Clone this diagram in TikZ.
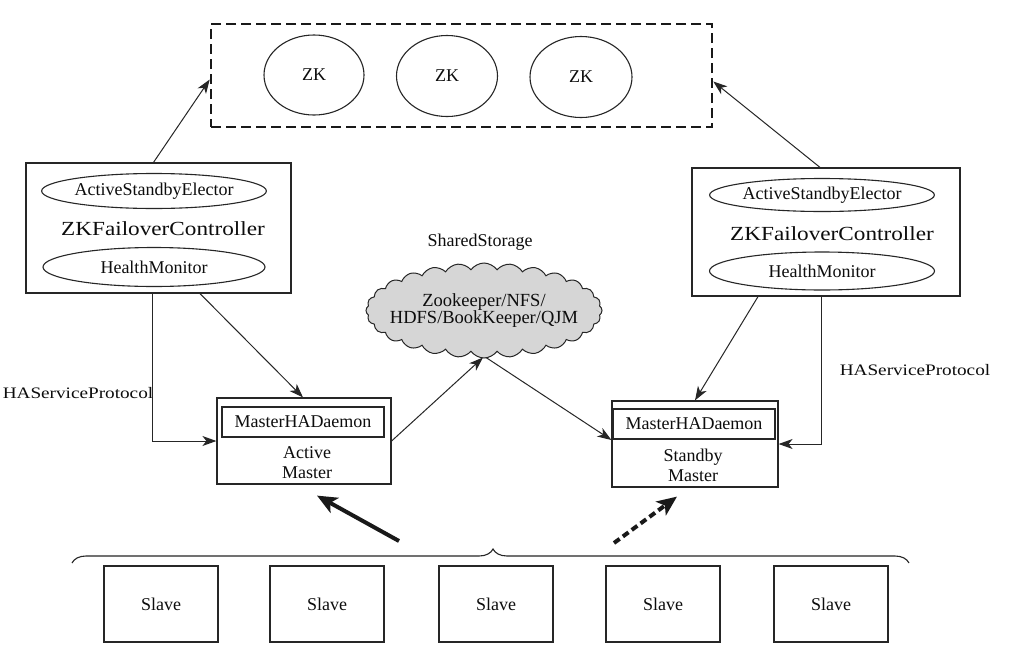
\documentclass[tikz,border=0pt]{standalone}
\usepackage{fontspec}
\setmainfont{Liberation Serif}
\newfontfamily\widefont[FakeStretch=1.16]{Liberation Serif}
\newfontfamily\broadfont[FakeStretch=1.2]{Liberation Serif}
\usetikzlibrary{shapes.geometric,shapes.symbols,arrows.meta,calc,decorations.pathreplacing}

\begin{document}
\begin{tikzpicture}[x=1pt,y=-1pt,
  every node/.style={inner sep=0pt, text=black!95},
  txt/.style={font=\fontsize{18}{20}\selectfont, align=center},
  box/.style={draw=black!85, line width=1.2pt, rectangle},
  oval/.style={draw=black!85, line width=1.1pt, ellipse, font=\fontsize{18}{20}\selectfont},
  ctrl/.style={font=\widefont\fontsize{20}{22}\selectfont},
  proto/.style={font=\broadfont\fontsize{16}{18}\selectfont},
  slavebox/.style={box, minimum width=114pt, minimum height=76pt, font=\fontsize{18}{20}\selectfont},
  link/.style={draw=black!85, line width=1pt, -{Stealth[length=14pt,width=10pt,inset=4pt]}},
  bigarrow/.style={draw=black!90, line width=4pt, -{Stealth[length=20pt,width=17pt,inset=5pt]}}
]
\useasboundingbox (0,0) rectangle (1016,664);
\fill[white] (0,0) rectangle (1016,664);

% ZooKeeper ensemble
\node[draw=black!90, line width=2.6pt, dash pattern=on 10pt off 5pt,
      minimum width=501pt, minimum height=103pt] (ens) at (461.5,75.5) {};
\node[oval, minimum width=100pt, minimum height=80pt] (zk1) at (314,75) {ZK};
\node[oval, minimum width=101pt, minimum height=81pt] (zk2) at (447,76) {ZK};
\node[oval, minimum width=102pt, minimum height=81pt] (zk3) at (581,77) {ZK};

% left failover controller
\node[box, minimum width=265pt, minimum height=130pt] (lfc) at (158.5,228) {};
\node[oval, minimum width=222pt, minimum height=35pt] (lase) at (154,191) {ActiveStandbyElector};
\node[ctrl] (lfctext) at (163,229) {ZKFailoverController};
\node[oval, minimum width=222pt, minimum height=39pt] (lhm) at (154,267) {HealthMonitor};

% right failover controller
\node[box, minimum width=268pt, minimum height=128pt] (rfc) at (826,232) {};
\node[oval, minimum width=223pt, minimum height=33pt] (rase) at (822,195) {ActiveStandbyElector};
\node[ctrl] (rfctext) at (832,234) {ZKFailoverController};
\node[oval, minimum width=225pt, minimum height=38pt] (rhm) at (822,271) {HealthMonitor};

% shared storage
\node[txt] (sslabel) at (480,242) {SharedStorage};
\node[cloud, cloud puffs=28, cloud puff arc=110, cloud ignores aspect,
      inner xsep=-18pt, inner ysep=-6pt, draw=black!85, line width=1pt,
      fill=black!16, minimum width=236pt, minimum height=95pt,
      font=\fontsize{18.5}{17}\selectfont, align=center] (store) at (484,310.5)
      {Zookeeper/NFS/\\HDFS/BookKeeper/QJM};

% active master
\node[box, minimum width=174pt, minimum height=86pt] (act) at (304,441) {};
\node[box, minimum width=162pt, minimum height=30pt, font=\fontsize{18}{20}\selectfont] (actd) at (303,422) {MasterHADaemon};
\node[txt] (acttext) at (307,463) {Active\\Master};

% standby master
\node[box, minimum width=166pt, minimum height=86pt] (stb) at (695,444) {};
\node[box, minimum width=162pt, minimum height=30pt, font=\fontsize{18}{20}\selectfont] (stbd) at (694,424) {MasterHADaemon};
\node[txt] (stbtext) at (693,465) {Standby\\Master};

% protocol labels
\node[proto] (lproto) at (78,393) {HAServiceProtocol};
\node[proto] (rproto) at (915,370) {HAServiceProtocol};

% slaves
\node[slavebox] (s1) at (161,604) {Slave};
\node[slavebox] (s2) at (327,604) {Slave};
\node[slavebox] (s3) at (496,604) {Slave};
\node[slavebox] (s4) at (663,604) {Slave};
\node[slavebox] (s5) at (831,604) {Slave};

\coordinate (braceL) at (72,563);
\coordinate (braceR) at (909,563);
\draw[black!85, line width=1.1pt, decorate, decoration={brace, amplitude=14pt, aspect=0.503}] (braceL) -- (braceR);

% controllers to the ensemble
\draw[link] ($(lfc.north)+(-5,0)$) -- ($(ens.west)+(0,4)$);
\draw[link] ($(rfc.north)+(-6,0)$) -- ($(ens.east)+(0,6)$);

% controllers to the masters
\draw[link] ($(lfc.south)+(-6.5,0)$) |- (act.west);
\draw[link] ($(lfc.south)+(41.5,0)$) -- ($(act.north)+(-1,0)$);
\draw[link] ($(rfc.south)+(-68,0)$) -- (stb.north);
\draw[link] ($(rfc.south)+(-5,0)$) |- (stb.east);

% masters and shared storage
\draw[link] (act.east) -- ($(store.south)+(-1,-1)$);
\draw[link] ($(store.south)+(2,-1)$) -- ($(stb.west)+(0,-4)$);

% slaves reporting to the masters
\coordinate (solidtail) at (399,541);
\coordinate (dashtail) at (614,543);
\draw[bigarrow] (solidtail) -- ($(act.south)+(13,11)$);
\draw[bigarrow, dash pattern=on 7pt off 4pt] (dashtail) -- ($(stb.south)+(-18,9)$);
\end{tikzpicture}
\end{document}
